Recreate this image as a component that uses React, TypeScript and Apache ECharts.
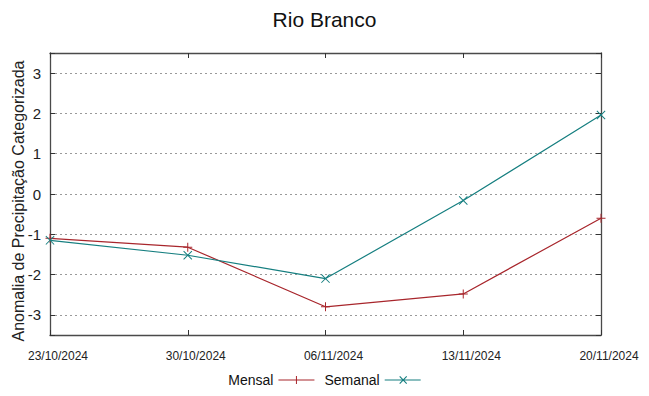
import React, { useEffect, useRef } from "react";
import * as echarts from "echarts";

const dates = ["23/10/2024", "30/10/2024", "06/11/2024", "13/11/2024", "20/11/2024"];
const mensal = [-1.1, -1.32, -2.8, -2.48, -0.6];
const semanal = [-1.15, -1.52, -2.1, -0.16, 1.96];
const seriesNames = ["Mensal", "Semanal"];
const title = "Rio Branco";
const yName = "Anomalia de Precipitação Categorizada";

const RED = "#a8262c";
const TEAL = "#167f80";
const FONT = "Liberation Sans";

const plusSym = "path://M4,0 L5,0 L5,9 L4,9 Z M0,4 L9,4 L9,5 L0,5 Z";
const crossSym = "path://M0,0.7 L0.7,0 L9,8.3 L8.3,9 Z M8.3,0 L9,0.7 L0.7,9 L0,8.3 Z";
const legPlus = "path://M0,4.5 L36,4.5 L36,5.5 L0,5.5 Z M17.5,1 L18.5,1 L18.5,9 L17.5,9 Z";
const legCross = "path://M0,4.5 L36,4.5 L36,5.5 L0,5.5 Z M14.6,1.8 L15.4,1 L22.4,8.2 L21.6,9 Z M21.6,1 L22.4,1.8 L15.4,9 L14.6,8.2 Z";

export default function App() {
  const ref = useRef<HTMLDivElement>(null);
  useEffect(() => {
    const chart = echarts.init(ref.current!, null, { renderer: "svg" });
    const frame = { show: true, onZero: false, lineStyle: { color: "#4a4a4a", width: 1.3 } };
    const tick = { show: true, inside: true, length: 5, lineStyle: { color: "#333", width: 1 } };
    const yLabelFmt = (v: number) => (Number.isInteger(Math.round(v * 1000) / 1000) && Math.abs(v) < 3.4 ? String(Math.round(v)) : "");
    chart.setOption({
      animation: false,
      backgroundColor: "#ffffff",
      title: {
        text: title,
        left: "center",
        top: 4,
        textStyle: { fontFamily: FONT, fontSize: 21, fontWeight: "normal", color: "#111" },
      },
      grid: { left: 50, right: 48, top: 53, bottom: 61, containLabel: false, outerBoundsMode: "none" },
      legend: {
        bottom: 4,
        left: "center",
        align: "right",
        itemWidth: 36,
        itemHeight: 10,
        itemGap: 10,
        textStyle: { fontFamily: FONT, fontSize: 14, color: "#111" },
        data: [
          { name: seriesNames[0], icon: legPlus },
          { name: seriesNames[1], icon: legCross },
        ],
      },
      xAxis: [
        {
          type: "category",
          data: dates,
          boundaryGap: false,
          position: "bottom",
          axisLine: frame,
          axisTick: tick,
          axisLabel: { fontFamily: FONT, fontSize: 12, color: "#222", margin: 15, padding: [0, 0, 0, 16], interval: 0 },
          splitLine: { show: false },
        },
        {
          type: "category",
          data: dates,
          boundaryGap: false,
          position: "top",
          axisLine: frame,
          axisTick: tick,
          axisLabel: { show: false },
          splitLine: { show: false },
        },
      ],
      yAxis: [
        {
          type: "value",
          min: -3.5,
          max: 3.5,
          splitNumber: 7,
          position: "left",
          axisLine: frame,
          axisTick: tick,
          axisLabel: { fontFamily: FONT, fontSize: 15, color: "#222", margin: 9, formatter: yLabelFmt },
          splitLine: { show: true, lineStyle: { color: "#9a9a9a", type: [2, 3], width: 1 } },
          name: yName,
          nameLocation: "middle",
          nameGap: 24,
          nameMoveOverlap: false,
          nameTextStyle: { fontFamily: FONT, fontSize: 16, color: "#222", padding: [0, 14, 0, 0] },
        },
        {
          type: "value",
          min: -3.5,
          max: 3.5,
          splitNumber: 7,
          position: "right",
          axisLine: frame,
          axisTick: tick,
          axisLabel: { show: false },
          splitLine: { show: false },
        },
      ],
      series: [
        {
          name: seriesNames[0],
          type: "line",
          data: mensal,
          symbol: plusSym,
          symbolSize: 9,
          lineStyle: { color: RED, width: 1.2 },
          itemStyle: { color: RED },
        },
        {
          name: seriesNames[1],
          type: "line",
          data: semanal,
          symbol: crossSym,
          symbolSize: 9,
          lineStyle: { color: TEAL, width: 1.2 },
          itemStyle: { color: TEAL },
        },
      ],
    });
    return () => chart.dispose();
  }, []);
  return <div ref={ref} style={{ width: 649, height: 396, position: "absolute", left: 0, top: 0 }} />;
}
